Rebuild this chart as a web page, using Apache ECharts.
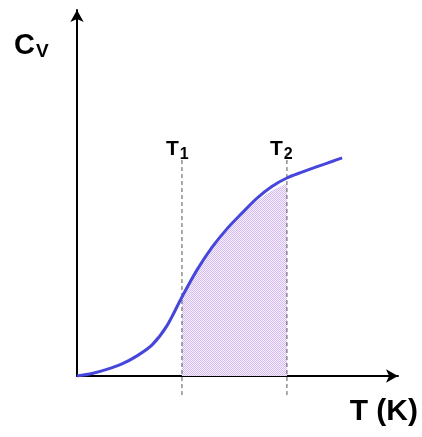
<!DOCTYPE html>
<html>
<head>
<meta charset="utf-8">
<script src="https://cdn.jsdelivr.net/npm/echarts@6/dist/echarts.min.js"></script>
<style>
  html, body { margin: 0; padding: 0; background: #fff; }
  #chart { width: 422px; height: 437px; }
</style>
</head>
<body>
<div id="chart"></div>
<script>
// heat capacity curve (arbitrary units 0..100)
const curveT = [0, 4.7, 9.3, 14.0, 18.7, 23.4, 28.0, 32.7, 37.4, 42.1, 46.7, 51.4, 56.1, 60.7, 65.4, 70.1, 74.8, 79.4, 82.6]
const curveCv = [0, 0.7, 1.8, 3.3, 5.5, 8.5, 13.7, 21.6, 29.0, 35.2, 40.2, 44.5, 48.6, 51.8, 54.1, 55.7, 57.2, 58.6, 59.6]

// the shaded part between T1 and T2 (its top sits just under the curve)
const areaT = [32.7, 37.4, 42.1, 46.7, 51.4, 56.1, 60.7, 65.4]
const areaCv = [21.6, 29.0, 35.2, 40.2, 44.2, 47.8, 50.6, 52.6]

// dashed markers
const t1 = 32.7
const t2 = 65.4
const t1Range = [-5.2, 59.6]
const t2Range = [-5.2, 61.7]

const font = '"Liberation Sans", Arial, Helvetica, sans-serif'

function zip(xs, ys) {
    return xs.map((x, i) => [x, ys[i]])
}

// fine purple hatch like the original fill
function hatch() {
    const c = document.createElement('canvas')
    c.width = 2
    c.height = 2
    const ctx = c.getContext('2d')
    ctx.fillStyle = '#f6f0fd'
    ctx.fillRect(0, 0, 2, 2)
    ctx.fillStyle = '#d4bcf3'
    ctx.fillRect(0, 0, 1, 1)
    ctx.fillRect(1, 1, 1, 1)
    return c
}

const chart = echarts.init(document.getElementById('chart'), null, { renderer: 'canvas' })

const axisCommon = {
    type: 'value',
    min: 0,
    max: 100,
    axisLine: {
        show: true,
        symbol: ['none', 'arrow'],
        symbolSize: [10, 12],
        lineStyle: { color: '#000', width: 2 }
    },
    axisTick: { show: false },
    axisLabel: { show: false },
    splitLine: { show: false }
}

const dashed = { color: '#555', width: 1, type: [4, 3] }

chart.setOption({
    animation: false,
    grid: { left: 77, right: 24, top: 10, bottom: 61 },
    xAxis: axisCommon,
    yAxis: axisCommon,
    series: [
        {
            type: 'line',
            data: zip(areaT, areaCv),
            smooth: 0.3,
            showSymbol: false,
            lineStyle: { width: 0 },
            areaStyle: { color: { image: hatch(), repeat: 'repeat' }, opacity: 1 },
            z: 2
        },
        {
            type: 'line',
            data: [[t1, t1Range[0]], [t1, t1Range[1]]],
            clip: false,
            showSymbol: false,
            lineStyle: dashed,
            z: 3
        },
        {
            type: 'line',
            data: [[t2, t2Range[0]], [t2, t2Range[1]]],
            clip: false,
            showSymbol: false,
            lineStyle: dashed,
            z: 3
        },
        {
            type: 'line',
            data: zip(curveT, curveCv),
            smooth: 0.3,
            showSymbol: false,
            lineStyle: { color: '#4646dc', width: 3 },
            z: 4
        }
    ],
    graphic: [
        {
            type: 'text', left: 14, top: 31,
            style: {
                text: '{a|C}{b|V}',
                rich: {
                    a: { font: 'bold 29px ' + font, fill: '#000' },
                    b: { font: 'bold 19px ' + font, fill: '#000', padding: [13, 0, 0, 1] }
                }
            }
        },
        {
            type: 'text', left: 166, top: 139,
            style: {
                text: '{a|T}{b|1}',
                rich: {
                    a: { font: 'bold 21px ' + font, fill: '#000' },
                    b: { font: 'bold 16px ' + font, fill: '#000', padding: [11, 0, 0, 1] }
                }
            }
        },
        {
            type: 'text', left: 270, top: 139,
            style: {
                text: '{a|T}{b|2}',
                rich: {
                    a: { font: 'bold 21px ' + font, fill: '#000' },
                    b: { font: 'bold 16px ' + font, fill: '#000', padding: [11, 0, 0, 1] }
                }
            }
        },
        {
            type: 'text', left: 208, top: 289,
            style: { text: 'ΔU', font: 'bold 32px ' + font, fill: '#000' }
        },
        {
            type: 'text', right: 4, top: 397,
            style: { text: 'T (K)', font: 'bold 30px ' + font, fill: '#000' }
        }
    ]
})
</script>
</body>
</html>
